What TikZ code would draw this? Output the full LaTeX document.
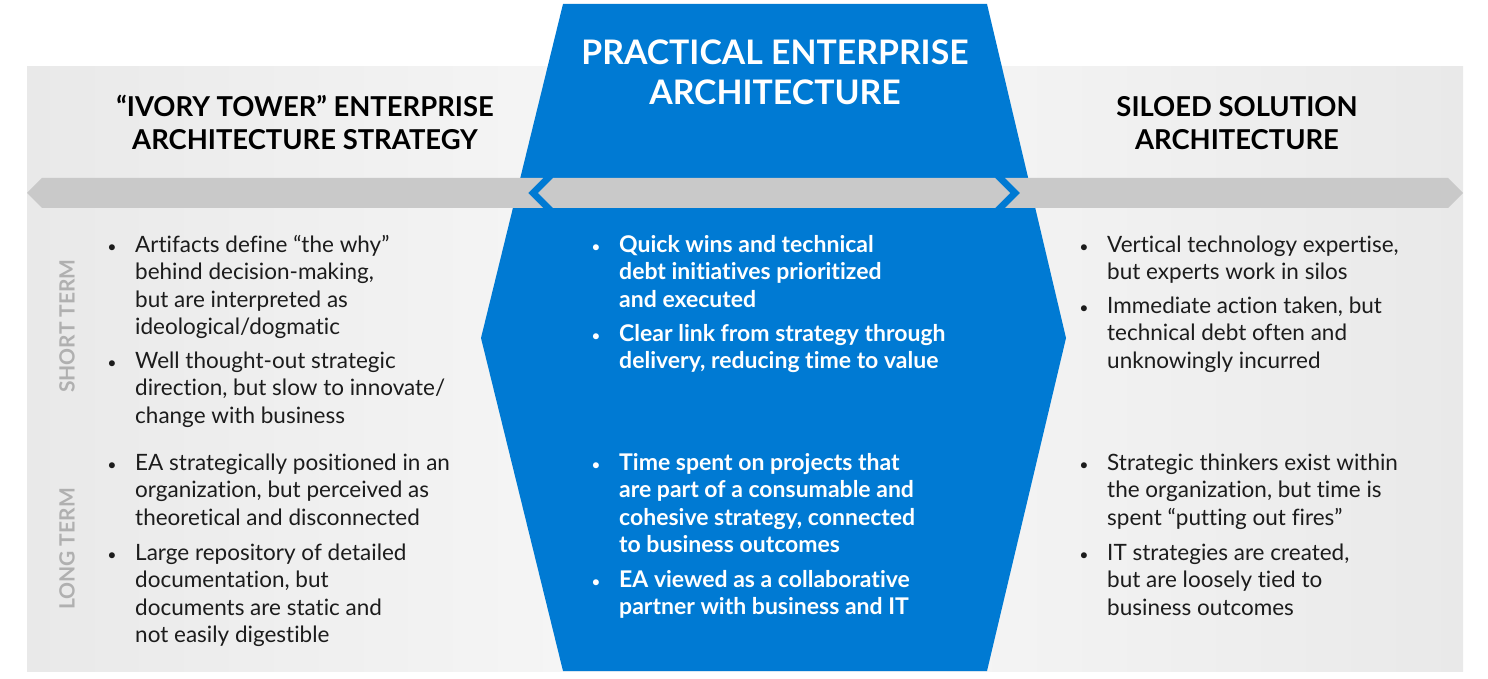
\documentclass[tikz,border=0pt]{standalone}
\usepackage{fontspec}
\setmainfont{Lato}[Ligatures={NoCommon}]
\definecolor{eablue}{RGB}{0,122,211}
\definecolor{bandgray}{RGB}{201,201,201}
\definecolor{panelgray}{RGB}{233,233,233}
\definecolor{panellight}{RGB}{249,249,249}
\definecolor{txt}{RGB}{28,28,28}
\definecolor{termgray}{RGB}{176,176,176}
\newcommand{\lns}[1]{\begin{tabular}[t]{@{}l@{}}#1\end{tabular}}
\tikzset{
  item/.style={anchor=base west, inner sep=0pt, text=txt,
    font=\fontsize{22.5}{27.5}\selectfont},
  citem/.style={item, text=white, font=\fontsize{23}{27.5}\selectfont\bfseries},
  bul/.style={anchor=base, inner sep=0pt, text=txt, font=\fontsize{16}{20}\selectfont},
  cbul/.style={bul, text=white},
  sidetitle/.style={anchor=base, inner sep=0pt, text=black, font=\fontsize{27.4}{27.4}\selectfont\bfseries},
  maintitle/.style={anchor=base, inner sep=0pt, text=white, font=\fontsize{33.8}{33.8}\selectfont\bfseries},
  term/.style={rotate=90, inner sep=0pt, text=termgray, font=\fontsize{21}{21}\selectfont\bfseries},
  band/.style={fill=bandgray}
}
\begin{document}
\begin{tikzpicture}[x=1pt,y=-1pt]
\useasboundingbox (0,0) rectangle (1488,679);
\fill[white] (0,0) rectangle (1488,679);
% panels
\shade[left color=panelgray, right color=panellight] (27,67) rectangle (744,671);
\shade[left color=panellight, right color=panelgray] (744,67) rectangle (1463,671);
% hexagon
\fill[eablue] (563,4) -- (987,4) -- (1066,338) -- (987,671) -- (563,671) -- (481,338) -- cycle;
% band
\fill[band] (27,193) -- (42,178) -- (543,178) -- (528,193) -- (543,208) -- (42,208) -- cycle;
\fill[band] (538,193) -- (553,178) -- (995,178) -- (1010,193) -- (995,208) -- (553,208) -- cycle;
\fill[band] (1005,178) -- (1448,178) -- (1463,193) -- (1448,208) -- (1005,208) -- (1020,193) -- cycle;
% titles
\node[maintitle] (ct1) at (775,65) {PRACTICAL ENTERPRISE};
\node[maintitle] (ct2) at (775,105) {ARCHITECTURE};
\node[sidetitle] (lt1) at (305,117) {“IVORY TOWER” ENTERPRISE};
\node[sidetitle] (lt2) at (305,150) {ARCHITECTURE STRATEGY};
\node[sidetitle] (rt1) at (1237,117) {SILOED SOLUTION};
\node[sidetitle] (rt2) at (1237,150) {ARCHITECTURE};
% term labels
\node[term] (short) at (67,326) {SHORT TERM};
\node[term] (long) at (67,549) {LONG TERM};
% left column
\node[bul] (lb1) at (112,252) {•};
\node[item] (l1) at (135,252) {\lns{Artifacts define “the why”\\behind decision-making,\\but are interpreted as\\ideological/dogmatic}};
\node[bul] (lb2) at (112,368) {•};
\node[item] (l2) at (135,368) {\lns{Well thought-out strategic\\direction, but slow to innovate/\\change with business}};
\node[bul] (lb3) at (112,470) {•};
\node[item] (l3) at (135,470) {\lns{EA strategically positioned in an\\organization, but perceived as\\theoretical and disconnected}};
\node[bul] (lb4) at (112,560) {•};
\node[item] (l4) at (135,560) {\lns{Large repository of detailed\\documentation, but\\documents are static and\\not easily digestible}};
% center column
\node[cbul] (cb1) at (596,252) {•};
\node[citem] (c1) at (619,252) {\lns{Quick wins and technical\\debt initiatives prioritized\\and executed}};
\node[cbul] (cb2) at (596,341) {•};
\node[citem] (c2) at (619,341) {\lns{Clear link from strategy through\\delivery, reducing time to value}};
\node[cbul] (cb3) at (596,470) {•};
\node[citem] (c3) at (619,470) {\lns{Time spent on projects that\\are part of a consumable and\\cohesive strategy, connected\\to business outcomes}};
\node[cbul] (cb4) at (596,587) {•};
\node[citem] (c4) at (619,587) {\lns{EA viewed as a collaborative\\partner with business and IT}};
% right column
\node[bul] (rb1) at (1084,252) {•};
\node[item] (r1) at (1107,252) {\lns{Vertical technology expertise,\\but experts work in silos}};
\node[bul] (rb2) at (1084,313) {•};
\node[item] (r2) at (1107,313) {\lns{Immediate action taken, but\\technical debt often and\\unknowingly incurred}};
\node[bul] (rb3) at (1084,470) {•};
\node[item] (r3) at (1107,470) {\lns{Strategic thinkers exist within\\the organization, but time is\\spent “putting out fires”}};
\node[bul] (rb4) at (1084,560) {•};
\node[item] (r4) at (1107,560) {\lns{IT strategies are created,\\but are loosely tied to\\business outcomes}};
\end{tikzpicture}
\end{document}
